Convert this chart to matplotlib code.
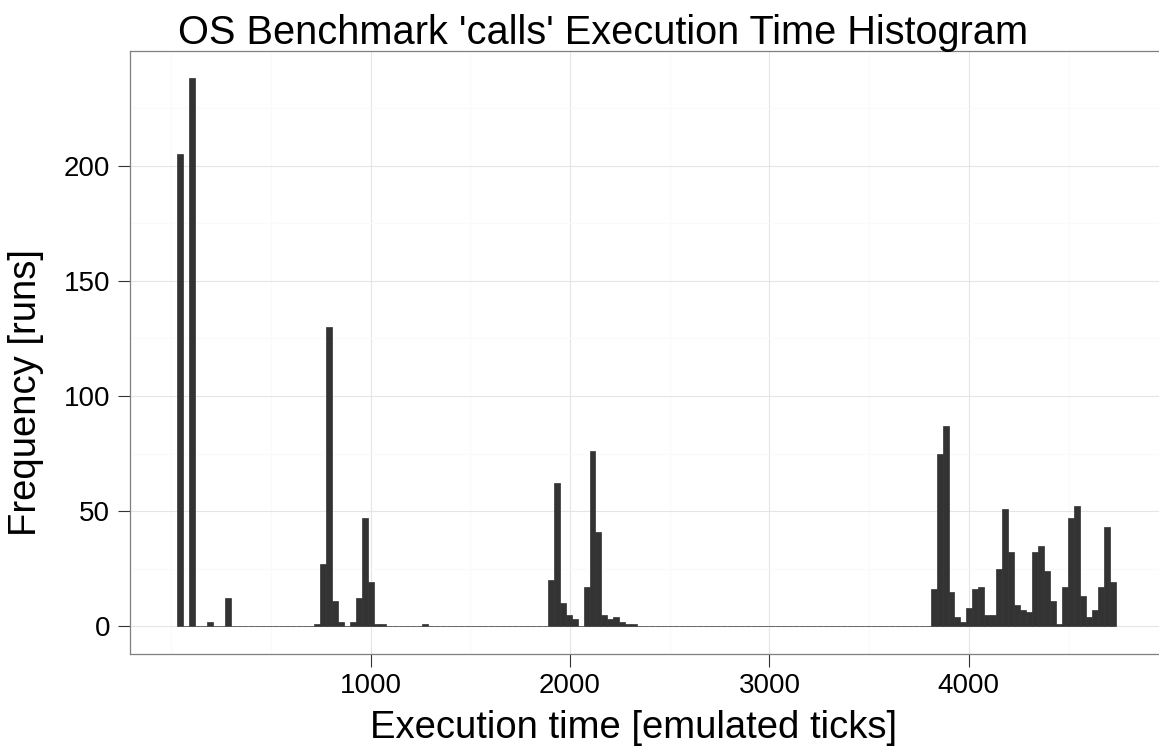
import matplotlib
matplotlib.use("Agg")
import matplotlib.pyplot as plt
import numpy as np

plt.rcParams['font.family'] = ['Liberation Sans', 'DejaVu Sans']

# histogram of execution times, binwidth 30 ticks
bin_start = 28
bin_width = 30
counts = [
    205, 0, 238, 0, 0, 2, 0, 0, 12, 0, 0, 0, 0, 0, 0, 0, 0, 0, 0, 0,
    0, 0, 0, 1, 27, 130, 11, 2, 0, 2, 12, 47, 19, 1, 1, 0, 0, 0, 0, 0,
    0, 1, 0, 0, 0, 0, 0, 0, 0, 0, 0, 0, 0, 0, 0, 0, 0, 0, 0, 0,
    0, 0, 20, 62, 10, 5, 3, 0, 17, 76, 41, 5, 3, 4, 2, 1, 1, 0, 0, 0,
    0, 0, 0, 0, 0, 0, 0, 0, 0, 0, 0, 0, 0, 0, 0, 0, 0, 0, 0, 0,
    0, 0, 0, 0, 0, 0, 0, 0, 0, 0, 0, 0, 0, 0, 0, 0, 0, 0, 0, 0,
    0, 0, 0, 0, 0, 0, 16, 75, 87, 15, 4, 2, 8, 16, 17, 5, 5, 25, 51, 32,
    9, 7, 6, 32, 35, 24, 11, 1, 17, 47, 52, 13, 4, 7, 17, 43, 19,
]
x_major = [1000, 2000, 3000, 4000]
x_minor = [0, 500, 1500, 2500, 3500, 4500]
y_major = [0, 50, 100, 150, 200]
y_minor = [25, 75, 125, 175, 225]

edges = bin_start + bin_width * np.arange(len(counts))

W, H = 1159, 750
fig = plt.figure(figsize=(W / 100, H / 100), dpi=100)
# panel in pixels: left 129.7, top 51, right 1163 (cut off), bottom 653.5
ax = fig.add_axes((129.7 / W, 1 - 653.5 / H, (1163 - 129.7) / W, (653.5 - 51) / H))

ax.bar(edges, counts, width=bin_width, align='edge', color='#333333',
       edgecolor='#333333', linewidth=0.5, zorder=3)

xmin, xmax = edges[0], edges[-1] + bin_width
xpad = 0.05 * (xmax - xmin)
ypad = 0.05 * max(counts)
ax.set_xlim(xmin - xpad, xmax + xpad)
ax.set_ylim(-ypad, max(counts) + ypad)

ax.set_xticks(x_major)
ax.set_xticks(x_minor, minor=True)
ax.set_yticks(y_major)
ax.set_yticks(y_minor, minor=True)
ax.grid(which='major', color='#e5e5e5', linewidth=0.8, zorder=0)
ax.grid(which='minor', color='#fafafa', linewidth=0.8, zorder=0)
ax.set_axisbelow(True)

ax.tick_params(which='major', length=9, width=0.8, color='#333333',
               labelsize=20, pad=5, labelcolor='black')
ax.tick_params(which='minor', length=0)

for s in ax.spines.values():
    s.set_color('#7f7f7f')
    s.set_linewidth(0.9)

# axis titles and main title placed as in the original
fig.text(634 / W, 1 - 738 / H, 'Execution time [emulated ticks]',
         fontsize=27.5, ha='center', va='baseline')
fig.text(26 / W, 1 - 392 / H, 'Frequency [runs]', fontsize=27.5,
         rotation=90, ha='center', va='center')
fig.text(603 / W, 1 - 44 / H, "OS Benchmark 'calls' Execution Time Histogram",
         fontsize=28.6, ha='center', va='baseline')

fig.savefig('out.png', dpi=100)
